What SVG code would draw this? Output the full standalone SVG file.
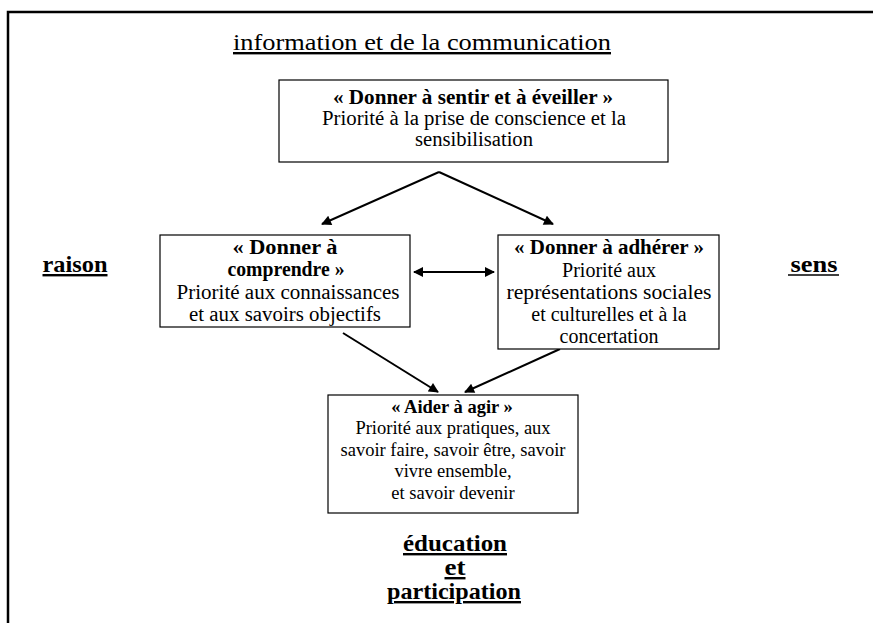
<svg xmlns="http://www.w3.org/2000/svg" width="873" height="623" viewBox="0 0 873 623">
<style>
text{font-family:'Liberation Serif','Times New Roman',serif;font-size:20px;fill:#000;text-anchor:middle}
.b{font-weight:bold}
.u{text-decoration:underline}
.sm{font-size:18.5px}
.lbl{font-size:24px;font-weight:bold}
.box{fill:#fff;stroke:#000;stroke-width:1.2}
.c{stroke:#000;stroke-width:2;fill:none}
</style>
<defs>
<marker id="ah" viewBox="0 0 10 10" refX="9" refY="5" markerWidth="5.5" markerHeight="5" orient="auto" markerUnits="strokeWidth">
<path d="M0,0 L10,5 L0,10 z" fill="#000"/>
</marker>
<marker id="as" viewBox="0 0 10 10" refX="1" refY="5" markerWidth="5.5" markerHeight="5" orient="auto" markerUnits="strokeWidth">
<path d="M10,0 L0,5 L10,10 z" fill="#000"/>
</marker>
</defs>
<rect width="873" height="623" fill="#fff"/>
<g id="frame">
<path d="M8,623 L8,12 L873,12" fill="none" stroke="#000" stroke-width="2.5"/>
</g>
<g id="title">
<text class="u" x="422" y="50" style="font-size:24px" textLength="378" lengthAdjust="spacingAndGlyphs">information et de la communication</text>
</g>
<g id="connectors">
<line class="c" x1="439" y1="172" x2="322" y2="224" marker-end="url(#ah)"/>
<line class="c" x1="439" y1="172" x2="553" y2="224" marker-end="url(#ah)"/>
<line class="c" x1="414" y1="272" x2="494" y2="272" marker-start="url(#as)" marker-end="url(#ah)"/>
<line class="c" x1="343" y1="333" x2="438" y2="392" marker-end="url(#ah)"/>
<line class="c" x1="560" y1="349" x2="465" y2="392" marker-end="url(#ah)"/>
</g>
<g id="node-sentir">
<rect class="box" x="279" y="80" width="389" height="82"/>
<text class="b" x="473" y="104" textLength="280" lengthAdjust="spacingAndGlyphs">« Donner à sentir et à éveiller »</text>
<text x="474" y="125" textLength="304" lengthAdjust="spacingAndGlyphs">Priorité à la prise de conscience et la</text>
<text x="474" y="146" textLength="118" lengthAdjust="spacingAndGlyphs">sensibilisation</text>
</g>
<g id="node-comprendre">
<rect class="box" x="160" y="235" width="250" height="92"/>
<text class="b" x="285" y="254" textLength="105" lengthAdjust="spacingAndGlyphs">« Donner à</text>
<text class="b" x="286" y="276" textLength="117" lengthAdjust="spacingAndGlyphs">comprendre »</text>
<text x="288" y="299" textLength="223" lengthAdjust="spacingAndGlyphs">Priorité aux connaissances</text>
<text x="285" y="321" textLength="192" lengthAdjust="spacingAndGlyphs">et aux savoirs objectifs</text>
</g>
<g id="node-adherer">
<rect class="box" x="498" y="235" width="221" height="114"/>
<text class="b" x="609" y="254" textLength="190" lengthAdjust="spacingAndGlyphs">« Donner à adhérer »</text>
<text x="609" y="277">Priorité aux</text>
<text x="609" y="299" textLength="205" lengthAdjust="spacingAndGlyphs">représentations sociales</text>
<text x="609" y="321">et culturelles et à la</text>
<text x="609" y="343">concertation</text>
</g>
<g id="node-agir">
<rect class="box" x="328" y="395" width="250" height="118"/>
<text class="b sm" x="452" y="413">« Aider à agir »</text>
<text class="sm" x="453" y="434">Priorité aux pratiques, aux</text>
<text class="sm" x="453" y="456">savoir faire, savoir être, savoir</text>
<text class="sm" x="453" y="477">vivre ensemble,</text>
<text class="sm" x="453" y="499">et savoir devenir</text>
</g>
<g id="label-raison">
<text class="lbl u" x="75" y="272" textLength="65" lengthAdjust="spacingAndGlyphs">raison</text>
</g>
<g id="label-sens">
<text class="lbl" x="814" y="272" textLength="47" lengthAdjust="spacingAndGlyphs">sens</text>
<line x1="788" y1="275" x2="839" y2="275" stroke="#000" stroke-width="1.5"/>
</g>
<g id="label-education">
<text class="lbl u" x="455" y="551" textLength="104" lengthAdjust="spacingAndGlyphs">éducation</text>
<text class="lbl u" x="455" y="575" textLength="21" lengthAdjust="spacingAndGlyphs">et</text>
<text class="lbl u" x="454" y="599" textLength="134" lengthAdjust="spacingAndGlyphs">participation</text>
</g>
</svg>
